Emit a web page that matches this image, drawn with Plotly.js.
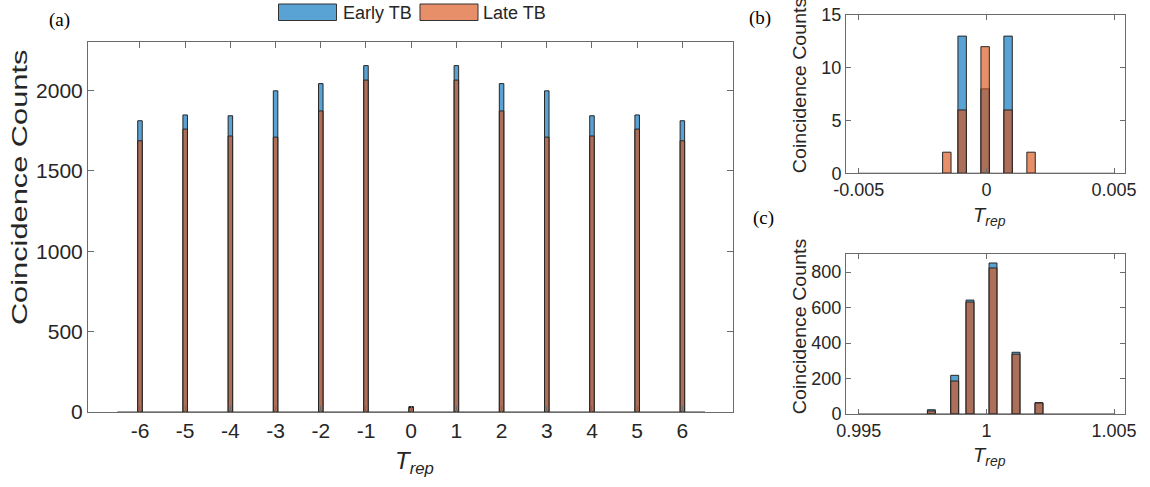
<!DOCTYPE html>
<html>
<head>
<meta charset="utf-8">
<script src="https://cdn.plot.ly/plotly-3.0.1.min.js"></script>
<style>
  html, body { margin: 0; padding: 0; background: #fff; }
  #chart { width: 1150px; height: 487px; }
</style>
</head>
<body>
<div id="chart"></div>
<script>
// Series names
const seriesNames = ['Early TB', 'Late TB'];

// (a) coincidences at integer multiples of the repetition period
const aX = [-6, -5, -4, -3, -2, -1, 0, 1, 2, 3, 4, 5, 6];
const aEarly = [1812, 1848, 1843, 1998, 2043, 2155, 34, 2155, 2043, 1998, 1843, 1848, 1812];
const aLate = [1687, 1760, 1717, 1710, 1873, 2065, 28, 2065, 1873, 1710, 1717, 1760, 1687];
const aBinRange = [-6.5, 6.5];

// (b) fine histogram around T_rep = 0
const bX = [-0.00155, -0.00095, -0.00005, 0.00085, 0.00175];
const bEarly = [0, 13, 8, 13, 0];
const bLate = [2, 6, 12, 6, 2];
const bBinRange = [-0.005, 0.005];

// (c) fine histogram around T_rep = 1
const cX = [0.997845, 0.998758, 0.999357, 1.000259, 1.00116, 1.00206];
const cEarly = [24, 218, 642, 851, 348, 64];
const cLate = [17, 186, 631, 823, 337, 62];
const cBinRange = [0.995, 1.005];

// Tick labels
const aXTicks = [-6, -5, -4, -3, -2, -1, 0, 1, 2, 3, 4, 5, 6];
const aXTickText = ['-6', '-5', '-4', '-3', '-2', '-1', '0', '1', '2', '3', '4', '5', '6'];
const aYTicks = [0, 500, 1000, 1500, 2000];
const bXTicks = [-0.005, 0, 0.005];
const bXTickText = ['-0.005', '0', '0.005'];
const bYTicks = [0, 5, 10, 15];
const cXTicks = [0.995, 1, 1.005];
const cXTickText = ['0.995', '1', '1.005'];
const cYTicks = [0, 200, 400, 600, 800];

const earlyFill = 'rgba(0,114,189,0.65)';
const lateFill = 'rgba(217,83,25,0.65)';
const edge = '#262626';
const W = 1150, H = 487;
const px = v => v / W;
const py = v => 1 - v / H;

function barPair(x, early, late, width, xa, ya) {
  return [
    { type: 'bar', x: x, y: early, width: width, name: seriesNames[0], xaxis: xa, yaxis: ya,
      marker: { color: earlyFill, line: { color: edge, width: 1 } }, showlegend: false, hoverinfo: 'x+y' },
    { type: 'bar', x: x, y: late, width: width, name: seriesNames[1], xaxis: xa, yaxis: ya,
      marker: { color: lateFill, line: { color: edge, width: 1 } }, showlegend: false, hoverinfo: 'x+y' }
  ];
}
function baseline(range, xa, ya) {
  return { type: 'scatter', mode: 'lines', x: range, y: [0, 0], xaxis: xa, yaxis: ya,
    line: { color: '#3a3a3a', width: 1.2 }, showlegend: false, hoverinfo: 'skip' };
}

const data = [
  baseline(aBinRange, 'x', 'y'),
  ...barPair(aX, aEarly, aLate, 0.1, 'x', 'y'),
  baseline(bBinRange, 'x2', 'y2'),
  ...barPair(bX, bEarly, bLate, 0.00033, 'x2', 'y2'),
  baseline(cBinRange, 'x3', 'y3'),
  ...barPair(cX, cEarly, cLate, 0.00031, 'x3', 'y3')
];

const sans = 'Liberation Sans, Arial, sans-serif';
const tickFont = { family: sans, size: 21, color: '#262626' };
const tickFontSmall = { family: sans, size: 18, color: '#262626' };
function axisBase(font, len) {
  return { showline: true, linecolor: '#6b6b6b', linewidth: 1, mirror: 'ticks', ticks: 'inside',
    ticklen: len, tickcolor: '#6b6b6b', tickwidth: 1, showgrid: false, zeroline: false,
    tickfont: font, fixedrange: true };
}

const layout = {
  width: W, height: H,
  margin: { l: 0, r: 0, t: 0, b: 0 },
  paper_bgcolor: '#fff', plot_bgcolor: '#fff',
  barmode: 'overlay', bargap: 0,
  showlegend: false,
  xaxis: Object.assign(axisBase(tickFont, 6), { domain: [px(88), px(733)], range: [-7.15, 7.12],
    tickmode: 'array', tickvals: aXTicks, ticktext: aXTickText, anchor: 'y' }),
  yaxis: Object.assign(axisBase(tickFont, 6), { domain: [py(412), py(42.3)], range: [0, 2300],
    tickmode: 'array', tickvals: aYTicks, anchor: 'x' }),
  xaxis2: Object.assign(axisBase(tickFontSmall, 5), { domain: [px(846), px(1125)], range: [-0.0055, 0.00543],
    tickmode: 'array', tickvals: bXTicks, ticktext: bXTickText, anchor: 'y2' }),
  yaxis2: Object.assign(axisBase(tickFontSmall, 5), { domain: [py(173.3), py(15)], range: [0, 15],
    tickmode: 'array', tickvals: bYTicks, anchor: 'x2' }),
  xaxis3: Object.assign(axisBase(tickFontSmall, 5), { domain: [px(846), px(1125)], range: [0.9945, 1.00543],
    tickmode: 'array', tickvals: cXTicks, ticktext: cXTickText, anchor: 'y3' }),
  yaxis3: Object.assign(axisBase(tickFontSmall, 5), { domain: [py(414), py(254.3)], range: [0, 900],
    tickmode: 'array', tickvals: cYTicks, anchor: 'x3' }),
  shapes: [
    { type: 'rect', xref: 'paper', yref: 'paper', x0: px(278.5), x1: px(336.5), y0: py(20.5), y1: py(4),
      fillcolor: earlyFill, line: { color: '#333', width: 1 } },
    { type: 'rect', xref: 'paper', yref: 'paper', x0: px(420), x1: px(478), y0: py(20.5), y1: py(4),
      fillcolor: lateFill, line: { color: '#333', width: 1 } }
  ],
  annotations: []
};

const ann = layout.annotations;
const labelFont = { family: sans, size: 18, color: '#262626' };
ann.push({ xref: 'paper', yref: 'paper', x: px(341), y: py(12.5), xanchor: 'left', yanchor: 'middle',
  text: seriesNames[0], showarrow: false, font: labelFont });
ann.push({ xref: 'paper', yref: 'paper', x: px(481), y: py(12.5), xanchor: 'left', yanchor: 'middle',
  text: seriesNames[1], showarrow: false, font: labelFont });

// Panel tags
const tagFont = { family: 'Liberation Serif, Times New Roman, serif', size: 19, color: '#000' };
[['(a)', 59, 20], ['(b)', 760, 18], ['(c)', 763, 218]].forEach(([t, x, y]) => {
  ann.push({ xref: 'paper', yref: 'paper', x: px(x), y: py(y), xanchor: 'center', yanchor: 'middle',
    text: t, showarrow: false, font: tagFont });
});

// Axis titles; each entry: [x, y, font size, vertical stretch]
const trep = '<i>T</i><sub><i>rep</i></sub>';
const yTitle = 'Coincidence Counts';
const stretched = [];
[[20, 188, 22, 1.4], [800, 86, 18, 1.09], [800, 327, 18, 1.09]].forEach(([x, y, s, k]) => {
  stretched.push({ index: ann.length, cy: y, k: k });
  ann.push({ xref: 'paper', yref: 'paper', x: px(x), y: py(y), textangle: -90, xanchor: 'center', yanchor: 'middle',
    text: yTitle, showarrow: false, font: { family: sans, size: s, color: '#262626' } });
});
ann.push({ xref: 'paper', yref: 'paper', x: px(414), y: py(462), xanchor: 'center', yanchor: 'middle',
  text: trep, showarrow: false, font: { family: sans, size: 24, color: '#262626' } });
ann.push({ xref: 'paper', yref: 'paper', x: px(989), y: py(216), xanchor: 'center', yanchor: 'middle',
  text: trep, showarrow: false, font: { family: sans, size: 20, color: '#262626' } });
ann.push({ xref: 'paper', yref: 'paper', x: px(989), y: py(456), xanchor: 'center', yanchor: 'middle',
  text: trep, showarrow: false, font: { family: sans, size: 20, color: '#262626' } });

Plotly.newPlot('chart', data, layout, { displayModeBar: false, staticPlot: true }).then(gd => {
  // Lengthen the rotated y titles along their reading direction
  stretched.forEach(({ index, cy, k }) => {
    const g = gd.querySelector('g.annotation[data-index="' + index + '"]');
    if (g) g.setAttribute('transform', 'translate(0,' + cy + ') scale(1,' + k + ') translate(0,' + (-cy) + ')');
  });
});
</script>
</body>
</html>
